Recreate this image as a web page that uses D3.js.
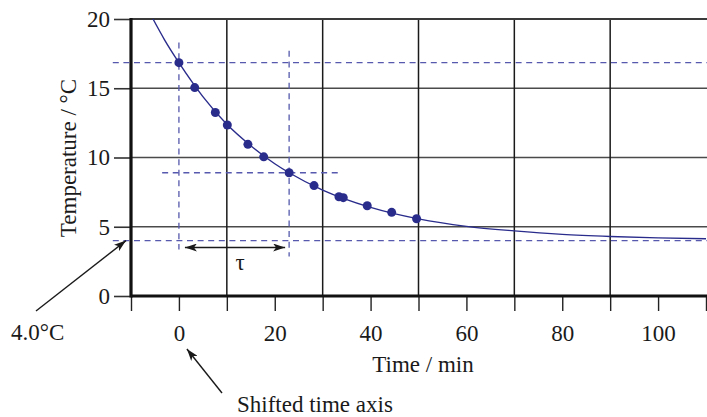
<!DOCTYPE html>
<html>
<head>
<meta charset="utf-8">
<script src="https://cdn.jsdelivr.net/npm/d3@7"></script>
</head>
<body style="margin:0">
<svg id="chart" width="707" height="417" font-family="Liberation Serif"></svg>
<script>
// Measured cooling data: time (min) and temperature (°C)
const sampleTime = [0, 3.3, 7.6, 10.1, 14.4, 17.7, 23.0, 28.2, 33.4, 34.3, 39.3, 44.4, 49.6];
const sampleTemp = [16.85, 15.05, 13.25, 12.35, 10.95, 10.05, 8.9, 7.97, 7.17, 7.1, 6.52, 6.04, 5.58];

// Fitted cooling curve, read at regular times
const curveTime = [-5.4, -3, 0, 5, 10, 15, 20, 23, 30, 40, 50, 60, 70, 80, 90, 100, 110];
const curveTemp = [20.0, 18.5, 16.85, 14.4, 12.4, 10.85, 9.55, 8.9, 7.65, 6.4, 5.57, 5.03, 4.7, 4.45, 4.3, 4.2, 4.13];

// Construction lines
const startTemp = 16.85;   // temperature at shifted t = 0
const tauTemp = 8.9;       // temperature after one time constant
const tau = 23;            // time constant, min
const ambient = 4.0;       // asymptotic temperature, °C

// Axis ticks
const xTickValues = [-10, 0, 10, 20, 30, 40, 50, 60, 70, 80, 90, 100, 110];
const xLabelValues = [0, 20, 40, 60, 80, 100];
const xGridValues = [10, 30, 50, 70, 90];
const yTickValues = [0, 5, 10, 15, 20];
const yGridValues = [5, 10, 15];

const svg = d3.select("#chart");
const x = d3.scaleLinear().domain([-10, 110]).range([131, 706]);
const y = d3.scaleLinear().domain([0, 20]).range([296, 19]);

const FONT = 23;
const FAMILY = "Liberation Serif";
const inkColor = "#1a1a1a";
const dashColor = "#5659ad";
const dataColor = "#2a2c8c";

// Grid
svg.append("g").selectAll("line").data(yGridValues).join("line")
  .attr("x1", x(-10)).attr("x2", 707)
  .attr("y1", d => y(d)).attr("y2", d => y(d))
  .attr("stroke", "#4a4a4a").attr("stroke-width", 1.6);
svg.append("g").selectAll("line").data(xGridValues).join("line")
  .attr("x1", d => x(d)).attr("x2", d => x(d))
  .attr("y1", y(20)).attr("y2", y(0))
  .attr("stroke", "#1a1a1a").attr("stroke-width", 1.5);
// Top border
svg.append("line")
  .attr("x1", x(-10)).attr("x2", 707).attr("y1", y(20)).attr("y2", y(20))
  .attr("stroke", "#3a3a3a").attr("stroke-width", 2.2);

// Axes
const xAxis = d3.axisBottom(x)
  .tickValues(xTickValues)
  .tickSize(15)
  .tickPadding(14)
  .tickFormat(d => xLabelValues.includes(d) ? d : "");
const gx = svg.append("g").attr("transform", `translate(0,${y(0)})`).call(xAxis);
gx.select(".domain").remove();
gx.selectAll(".tick line").attr("stroke", "#222").attr("stroke-width", 1.4);

const yAxis = d3.axisLeft(y)
  .tickValues(yTickValues)
  .tickSize(17)
  .tickPadding(4)
  .tickFormat(d3.format("d"));
const gy = svg.append("g").attr("transform", `translate(${x(-10)},0)`).call(yAxis);
gy.select(".domain").remove();
gy.selectAll(".tick line").attr("stroke", "#333").attr("stroke-width", 1.6);

// Heavy axis lines
svg.append("line")
  .attr("x1", x(-10)).attr("x2", 707).attr("y1", y(0)).attr("y2", y(0))
  .attr("stroke", "#111").attr("stroke-width", 3.2);
svg.append("line")
  .attr("x1", x(-10)).attr("x2", x(-10)).attr("y1", y(20) - 1).attr("y2", y(0) + 1.5)
  .attr("stroke", "#111").attr("stroke-width", 3.2);

// Dashed construction lines
const dash = svg.append("g")
  .attr("stroke", dashColor).attr("stroke-width", 1.3)
  .attr("stroke-dasharray", "6,4.6").attr("fill", "none");
dash.append("line").attr("x1", x(-13.8)).attr("x2", 707).attr("y1", y(startTemp)).attr("y2", y(startTemp));
dash.append("line").attr("x1", x(-13.8)).attr("x2", 707).attr("y1", y(ambient)).attr("y2", y(ambient));
dash.append("line").attr("x1", x(-3.5)).attr("x2", x(34)).attr("y1", y(tauTemp)).attr("y2", y(tauTemp));
dash.append("line").attr("x1", x(0)).attr("x2", x(0)).attr("y1", y(18.3)).attr("y2", y(3.35));
dash.append("line").attr("x1", x(tau)).attr("x2", x(tau)).attr("y1", y(17.7)).attr("y2", y(2.85));

// Fitted curve
const curvePts = curveTime.map((t, i) => [t, curveTemp[i]]);
svg.append("path")
  .datum(curvePts)
  .attr("fill", "none")
  .attr("stroke", dataColor)
  .attr("stroke-width", 1.4)
  .attr("d", d3.line().x(d => x(d[0])).y(d => y(d[1])).curve(d3.curveMonotoneX));

// Data points
svg.append("g").selectAll("circle")
  .data(sampleTime.map((t, i) => [t, sampleTemp[i]]))
  .join("circle")
  .attr("cx", d => x(d[0])).attr("cy", d => y(d[1]))
  .attr("r", 4.5)
  .attr("fill", dataColor);

// Arrowheads
const defs = svg.append("defs");
function marker(id, orient) {
  defs.append("marker")
    .attr("id", id)
    .attr("viewBox", "0 0 12 8")
    .attr("refX", 12).attr("refY", 4)
    .attr("markerWidth", 12).attr("markerHeight", 8)
    .attr("markerUnits", "userSpaceOnUse")
    .attr("orient", orient)
    .append("path").attr("d", "M0,0 L12,4 L0,8 L3,4 Z").attr("fill", inkColor);
}
marker("arrowEnd", "auto");
marker("arrowStart", "auto-start-reverse");

// Time-constant span
const tauY = y(3.5);
svg.append("line")
  .attr("x1", x(0) + 6).attr("x2", x(tau) - 4)
  .attr("y1", tauY).attr("y2", tauY)
  .attr("stroke", inkColor).attr("stroke-width", 1.5)
  .attr("marker-start", "url(#arrowStart)")
  .attr("marker-end", "url(#arrowEnd)");
svg.append("text")
  .attr("x", (x(0) + x(tau)) / 2 + 6).attr("y", tauY + 22)
  .attr("text-anchor", "middle")
  .text("τ");

// Ambient temperature callout
svg.append("line")
  .attr("x1", 36).attr("y1", 311)
  .attr("x2", x(-10) - 5).attr("y2", y(ambient))
  .attr("stroke", inkColor).attr("stroke-width", 1.4)
  .attr("marker-end", "url(#arrowEnd)");
svg.append("text")
  .attr("x", 11).attr("y", 340)
  .text("4.0°C");

// Shifted origin callout
svg.append("line")
  .attr("x1", 222).attr("y1", 393)
  .attr("x2", x(0) + 8).attr("y2", 349)
  .attr("stroke", inkColor).attr("stroke-width", 1.4)
  .attr("marker-end", "url(#arrowEnd)");
svg.append("text")
  .attr("x", 237).attr("y", 412)
  .text("Shifted time axis");

// Axis titles
svg.append("text")
  .attr("x", 423).attr("y", 372)
  .attr("text-anchor", "middle")
  .text("Time / min");
svg.append("text")
  .attr("transform", "translate(76,158) rotate(-90)")
  .attr("text-anchor", "middle")
  .text("Temperature / °C");

// Shared typography for every label
svg.selectAll("g").attr("font-family", FAMILY).attr("font-size", FONT);
svg.selectAll("text")
  .attr("font-family", FAMILY)
  .attr("font-size", FONT)
  .style("font-family", `"${FAMILY}"`)
  .attr("fill", inkColor);
</script>
</body>
</html>
